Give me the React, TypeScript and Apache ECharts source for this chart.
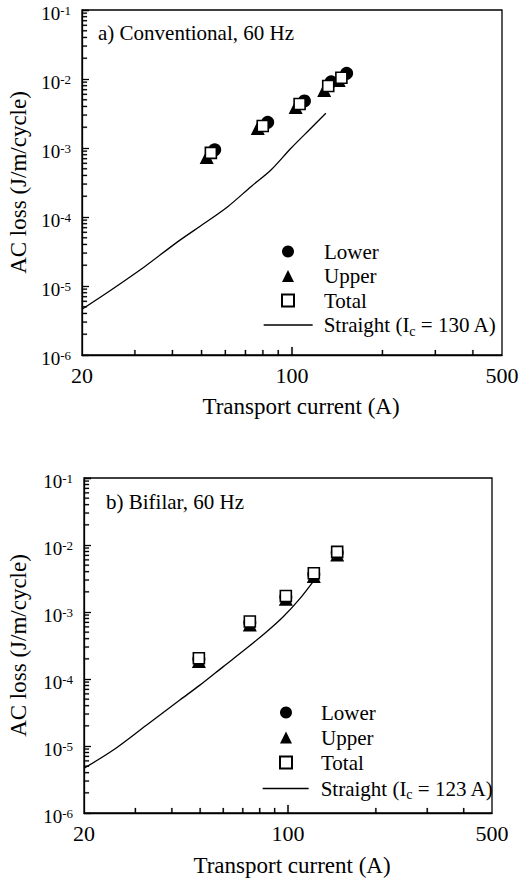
import React, { useEffect, useRef } from "react";
import * as echarts from "echarts";

// ---------- axis ticks ----------
const X_MIN = 20;
const X_MAX = 500;
const Y_MIN = 1e-6;
const Y_MAX = 1e-1;
const X_TICK_LABELS = [20, 100, 500];
const X_MAJOR_TICKS = [100];
const X_MINOR_TICKS = [30, 40, 50, 60, 70, 80, 90, 200, 300, 400];
const Y_DECADE_EXPONENTS = [-6, -5, -4, -3, -2, -1];
const Y_MINOR_MULTIPLIERS = [2, 3, 4, 5, 6, 7, 8, 9];

// ---------- panel a) Conventional, 60 Hz ----------
const A_LOWER = [
  [55.3, 9.4e-4],
  [83, 2.36e-3],
  [110, 4.8e-3],
  [135, 9.1e-3],
  [152, 1.21e-2],
];
const A_UPPER = [
  [52, 7.4e-4],
  [76.9, 1.95e-3],
  [102.8, 3.93e-3],
  [128, 6.9e-3],
  [143, 9.7e-3],
];
const A_TOTAL = [
  [53.7, 8.5e-4],
  [79.9, 2.08e-3],
  [106, 4.34e-3],
  [132, 7.9e-3],
  [146, 1.04e-2],
];
const A_STRAIGHT = [
  [20, 4.6e-6],
  [25, 8.75e-6],
  [32.3, 1.9e-5],
  [41.7, 4.4e-5],
  [51.1, 8.1e-5],
  [61.1, 1.41e-4],
  [73, 2.75e-4],
  [85.1, 4.8e-4],
  [99.2, 9.9e-4],
  [115.6, 1.93e-3],
  [129.6, 3.18e-3],
];

// ---------- panel b) Bifilar, 60 Hz ----------
const B_LOWER = [
  [49.5, 1.98e-4],
  [74, 7.0e-4],
  [98.3, 1.68e-3],
  [122.6, 3.67e-3],
  [147.4, 7.7e-3],
];
const B_UPPER = [
  [49.5, 1.85e-4],
  [74, 6.5e-4],
  [98.3, 1.58e-3],
  [122.6, 3.45e-3],
  [147.4, 7.2e-3],
];
const B_TOTAL = [
  [49.5, 2.04e-4],
  [74, 7.2e-4],
  [98.3, 1.73e-3],
  [122.6, 3.78e-3],
  [147.4, 7.9e-3],
];
const B_STRAIGHT = [
  [20, 4.65e-6],
  [25.2, 8.7e-6],
  [32.8, 2.06e-5],
  [42.6, 4.86e-5],
  [49.9, 8.1e-5],
  [60, 1.53e-4],
  [72.1, 2.87e-4],
  [84.5, 5.08e-4],
  [96.3, 8.5e-4],
  [110, 1.6e-3],
  [123, 3.0e-3],
];

const SYMBOL_NAMES = ["Lower", "Upper", "Total"];
const A_STRAIGHT_NAME = "Straight (Ic = 130 A)";
const B_STRAIGHT_NAME = "Straight (Ic = 123 A)";

const FONT = "Liberation Serif";
const INK = "#000";

const Y_MAJOR_TICKS = Y_DECADE_EXPONENTS.map((e) => Math.pow(10, e));
const Y_MINOR_TICKS: number[] = [];
Y_DECADE_EXPONENTS.slice(0, -1).forEach((e) => {
  Y_MINOR_MULTIPLIERS.forEach((m) => {
    Y_MINOR_TICKS.push(parseFloat((m * Math.pow(10, e)).toPrecision(6)));
  });
});

function buildAxes(gridIndex: number, nameGapX: number, nameGapY: number, namePadX: number) {
  const x = {
    type: "log",
    logBase: 10,
    gridIndex,
    min: X_MIN,
    max: X_MAX,
    position: "bottom",
    name: "Transport current (A)",
    nameLocation: "middle",
    nameGap: nameGapX,
    nameTextStyle: {
      fontFamily: FONT,
      fontSize: 23,
      color: INK,
      padding: [0, 0, 0, namePadX],
    },
    axisLine: { show: true, lineStyle: { color: INK, width: 1.3 } },
    axisTick: { show: false },
    minorTick: { show: false },
    axisLabel: {
      show: true,
      customValues: X_TICK_LABELS,
      margin: 9,
      fontFamily: FONT,
      fontSize: 22,
      color: INK,
      formatter: (v: number) => String(Math.round(v)),
    },
    splitLine: { show: false },
  };
  const y = {
    type: "log",
    logBase: 10,
    gridIndex,
    min: Y_MIN,
    max: Y_MAX,
    interval: 1,
    position: "left",
    name: "AC loss (J/m/cycle)",
    nameLocation: "middle",
    nameGap: nameGapY,
    nameTextStyle: { fontFamily: FONT, fontSize: 23, color: INK },
    axisLine: { show: true, lineStyle: { color: INK, width: 1.3 } },
    axisTick: {
      show: true,
      inside: true,
      length: 7,
      lineStyle: { color: INK, width: 1.3 },
    },
    minorTick: { show: false },
    axisLabel: {
      show: true,
      customValues: Y_MAJOR_TICKS,
      margin: 11,
      padding: [6, 0, 0, 0],
      formatter: (v: number) => `{b|10}{s|${Math.round(Math.log10(v))}}`,
      rich: {
        b: { fontFamily: FONT, fontSize: 19, color: INK, lineHeight: 18 },
        s: {
          fontFamily: FONT,
          fontSize: 13,
          color: INK,
          lineHeight: 10,
          verticalAlign: "top",
        },
      },
    },
    splitLine: { show: false },
  };
  return { x, y };
}

function scatterSeries(
  name: string,
  data: number[][],
  axisIndex: number,
  kind: "circle" | "triangle" | "rect"
) {
  const base: any = {
    type: "scatter",
    name,
    data,
    xAxisIndex: axisIndex,
    yAxisIndex: axisIndex,
    symbol: kind,
    z: 3,
  };
  if (kind === "circle") {
    base.symbolSize = 13;
    base.itemStyle = { color: INK, opacity: 1 };
  } else if (kind === "triangle") {
    base.symbolSize = 14;
    base.itemStyle = { color: INK, opacity: 1 };
  } else {
    base.symbolSize = 11;
    base.itemStyle = { color: "#fff", borderColor: INK, borderWidth: 1.6, opacity: 1 };
  }
  return base;
}

function lineSeries(name: string, data: number[][], axisIndex: number) {
  return {
    type: "line",
    name,
    data,
    xAxisIndex: axisIndex,
    yAxisIndex: axisIndex,
    symbol: "none",
    smooth: 0.3,
    z: 2,
    lineStyle: { color: INK, width: 1.3 },
    itemStyle: { color: INK },
  };
}

function legendFormatter(name: string) {
  const m = name.match(/^Straight \(Ic = (\d+) A\)$/);
  if (m) {
    return `{g|Straight (I}{s|c}{n| = ${m[1]} A)}`;
  }
  return `{f|${name}}`;
}

function legendText(padLeft: number) {
  return {
    fontFamily: FONT,
    fontSize: 21,
    color: INK,
    rich: {
      f: { fontFamily: FONT, fontSize: 21, color: INK, padding: [0, 0, 0, padLeft] },
      g: { fontFamily: FONT, fontSize: 21, color: INK, lineHeight: 26, padding: [0, 0, 0, padLeft] },
      n: { fontFamily: FONT, fontSize: 21, color: INK, lineHeight: 26 },
      s: {
        fontFamily: FONT,
        fontSize: 14,
        color: INK,
        lineHeight: 12,
        verticalAlign: "bottom",
      },
    },
  };
}

function symbolLegend(left: number, top: number, padLeft: number, gap: number) {
  return {
    orient: "vertical",
    left,
    top,
    padding: 0,
    itemWidth: 12,
    itemHeight: 12,
    itemGap: gap,
    selectedMode: false,
    data: SYMBOL_NAMES,
    formatter: legendFormatter,
    textStyle: legendText(padLeft),
  };
}

function lineLegend(left: number, top: number, width: number, padLeft: number, name: string) {
  return {
    orient: "vertical",
    left,
    top,
    padding: 0,
    itemWidth: width,
    itemHeight: 12,
    selectedMode: false,
    data: [
      {
        name,
        itemStyle: { opacity: 0, color: "rgba(0,0,0,0)", borderWidth: 0 },
        lineStyle: { color: INK, width: 1.3, opacity: 1 },
      },
    ],
    formatter: legendFormatter,
    textStyle: legendText(padLeft),
  };
}

// tick marks placed through the axes' own log scales (convertToPixel)
function buildTickGraphics(chart: any, gridCount: number) {
  const out: any[] = [];
  const specs: any[] = [
    [X_MAJOR_TICKS, "x", 8, 1.4],
    [X_MINOR_TICKS, "x", 5, 1.3],
    [Y_MINOR_TICKS, "y", 5, 1.2],
  ];
  for (let g = 0; g < gridCount; g++) {
    specs.forEach((spec: any) => {
      const values: number[] = spec[0];
      const dir: string = spec[1];
      const len: number = spec[2];
      const width: number = spec[3];
      values.forEach((v) => {
        const p = chart.convertToPixel(
          { gridIndex: g },
          dir === "x" ? [v, Y_MIN] : [X_MIN, v]
        );
        if (!p || !isFinite(p[0]) || !isFinite(p[1])) return;
        out.push({
          type: "rect",
          z: 50,
          shape:
            dir === "x"
              ? { x: p[0] - width / 2, y: p[1] - len, width: width, height: len }
              : { x: p[0], y: p[1] - width / 2, width: len, height: width },
          style: { fill: INK, stroke: INK, lineWidth: 0.2 },
        });
      });
    });
  }
  return out;
}

export default function App() {
  const ref = useRef<HTMLDivElement>(null);

  useEffect(() => {
    if (!ref.current) return;
    const chart = echarts.init(ref.current, undefined, { renderer: "svg" });
    const a = buildAxes(0, 40, 52, 18);
    const b = buildAxes(1, 41, 54, 8);

    const option: any = {
      animation: false,
      backgroundColor: "#fff",
      title: [
        {
          text: "a) Conventional, 60 Hz",
          left: 98,
          top: 22,
          padding: 0,
          textStyle: { fontFamily: FONT, fontSize: 21, fontWeight: "normal", color: INK },
        },
        {
          text: "b) Bifilar, 60 Hz",
          left: 106,
          top: 491,
          padding: 0,
          textStyle: { fontFamily: FONT, fontSize: 21, fontWeight: "normal", color: INK },
        },
      ],
      grid: [
        {
          left: 82,
          top: 10,
          width: 420,
          height: 345,
          show: true,
          borderColor: INK,
          borderWidth: 1.3,
          backgroundColor: "transparent",
          containLabel: false,
          outerBoundsMode: "none",
        },
        {
          left: 84,
          top: 478,
          width: 408,
          height: 335,
          show: true,
          borderColor: INK,
          borderWidth: 1.3,
          backgroundColor: "transparent",
          containLabel: false,
          outerBoundsMode: "none",
        },
      ],
      xAxis: [a.x, b.x],
      yAxis: [a.y, b.y],
      legend: [
        symbolLegend(281, 241, 25, 3.5),
        lineLegend(263, 314.5, 49, 6, A_STRAIGHT_NAME),
        symbolLegend(279, 702, 24, 4),
        lineLegend(262, 778, 46, 7, B_STRAIGHT_NAME),
      ],
      series: [
        scatterSeries("Lower", A_LOWER, 0, "circle"),
        scatterSeries("Upper", A_UPPER, 0, "triangle"),
        scatterSeries("Total", A_TOTAL, 0, "rect"),
        lineSeries(A_STRAIGHT_NAME, A_STRAIGHT, 0),
        scatterSeries("Lower", B_LOWER, 1, "circle"),
        scatterSeries("Upper", B_UPPER, 1, "triangle"),
        scatterSeries("Total", B_TOTAL, 1, "rect"),
        lineSeries(B_STRAIGHT_NAME, B_STRAIGHT, 1),
      ],
    };
    chart.setOption(option);
    try {
      chart.setOption({ graphic: { elements: buildTickGraphics(chart, 2) } });
    } catch (e) {
      // ticks are decoration only
    }
    return () => chart.dispose();
  }, []);

  return (
    <div
      ref={ref}
      style={{ position: "absolute", left: 0, top: 0, width: 523, height: 881 }}
    />
  );
}
